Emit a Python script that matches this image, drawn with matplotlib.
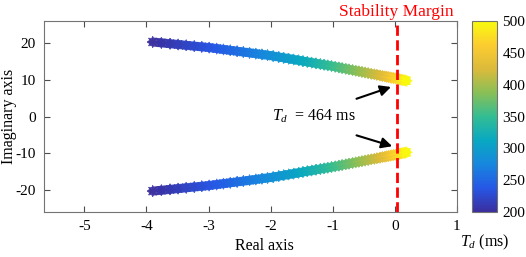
import numpy as np
import matplotlib
matplotlib.use('Agg')
import matplotlib.pyplot as plt
from matplotlib.colors import LinearSegmentedColormap
from matplotlib.collections import LineCollection

plt.rcParams['font.family'] = ['Liberation Serif', 'DejaVu Serif']
plt.rcParams['mathtext.fontset'] = 'custom'
plt.rcParams['mathtext.it'] = 'Liberation Serif:italic'
plt.rcParams['mathtext.rm'] = 'Liberation Serif'
plt.rcParams['axes.unicode_minus'] = False

# 时延 Td (ms) 与对应的主导特征根（上半支，下半支为共轭）
td = [200, 205, 210, 215, 220, 225, 230, 235, 240, 245,
      250, 255, 260, 265, 270, 275, 280, 285, 290, 295,
      300, 305, 310, 315, 320, 325, 330, 335, 340, 345,
      350, 355, 360, 365, 370, 375, 380, 385, 390, 395,
      400, 405, 410, 415, 420, 425, 430, 435, 440, 445,
      450, 455, 460, 465, 470, 475, 480, 485, 490, 495, 500]
real_part = [-3.90, -3.76, -3.62, -3.49, -3.36, -3.23, -3.11, -2.99, -2.87, -2.76,
             -2.65, -2.54, -2.44, -2.34, -2.24, -2.14, -2.05, -1.96, -1.87, -1.79,
             -1.71, -1.63, -1.55, -1.48, -1.41, -1.34, -1.27, -1.20, -1.14, -1.08,
             -1.02, -0.96, -0.90, -0.85, -0.79, -0.74, -0.68, -0.63, -0.58, -0.53,
             -0.48, -0.43, -0.38, -0.33, -0.29, -0.24, -0.20, -0.16, -0.13, -0.10,
             -0.07, -0.05, -0.02, 0.01, 0.04, 0.07, 0.10, 0.12, 0.15, 0.17, 0.19]
imag_part = [20.30, 20.07, 19.83, 19.62, 19.40, 19.18, 18.98, 18.78, 18.51, 18.27,
             18.03, 17.79, 17.57, 17.35, 17.13, 16.91, 16.71, 16.48, 16.22, 15.99,
             15.76, 15.53, 15.30, 15.09, 14.89, 14.69, 14.48, 14.28, 14.11, 13.93,
             13.76, 13.57, 13.37, 13.20, 13.01, 12.84, 12.64, 12.48, 12.31, 12.15,
             11.98, 11.82, 11.65, 11.49, 11.36, 11.19, 11.06, 10.93, 10.83, 10.73,
             10.63, 10.57, 10.47, 10.37, 10.26, 10.16, 10.05, 9.98, 9.88, 9.81, 9.74]
cbar_ticks = [200, 250, 300, 350, 400, 450, 500]

# parula 近似色表
parula_colors = [(0.230, 0.180, 0.620), (0.150, 0.340, 0.900), (0.090, 0.530, 0.870),
                 (0.035, 0.660, 0.760), (0.200, 0.740, 0.580), (0.540, 0.750, 0.340),
                 (0.860, 0.730, 0.230), (0.990, 0.800, 0.190), (0.976, 0.983, 0.054)]
parula = LinearSegmentedColormap.from_list('parula', parula_colors)

td = np.array(td)
re = np.array(real_part)
im = np.array(imag_part)

fig = plt.figure(figsize=(5.26, 2.57), dpi=100)
ax = fig.add_axes([0.0837, 0.175, 0.785, 0.743])
cax = fig.add_axes([0.897, 0.175, 0.0475, 0.743])

star = (8, 2, 0)
for sign in (1, -1):
    pts = np.column_stack([re, sign * im]).reshape(-1, 1, 2)
    segs = np.concatenate([pts[:-1], pts[1:]], axis=1)
    lc = LineCollection(segs, cmap=parula, norm=plt.Normalize(200, 500),
                        linewidths=6.5, capstyle='round', alpha=0.9)
    lc.set_array((td[:-1] + td[1:]) / 2)
    ax.add_collection(lc)
    sc = ax.scatter(re, sign * im, c=td, cmap=parula, vmin=200, vmax=500,
                    marker=star, s=55, linewidths=0.9, alpha=0.8, zorder=3)

ax.axvline(0.03, color='red', linestyle='--', linewidth=2, zorder=4)
ax.text(0.03, 26.4, 'Stability Margin', color='red', fontsize=12.5,
        ha='center', va='bottom')

ax.text(-1.98, 0, r'$T_d$  = 464 ms', fontsize=11.5, ha='left', va='center')
ax.annotate('', xy=(-0.02, 8.3), xytext=(-0.66, 4.6),
            arrowprops=dict(arrowstyle='-|>', color='black', lw=1.5,
                            mutation_scale=16), zorder=5)
ax.annotate('', xy=(0.0, -8.3), xytext=(-0.66, -4.9),
            arrowprops=dict(arrowstyle='-|>', color='black', lw=1.5,
                            mutation_scale=16), zorder=5)

ax.set_xlim(-5.65, 1)
ax.set_ylim(-26, 26)
ax.set_xticks([-5, -4, -3, -2, -1, 0, 1])
ax.set_yticks([-20, -10, 0, 10, 20])
ax.tick_params(direction='in', top=True, right=True, labelsize=11, length=4,
               color='0.3', pad=6)
for sp in ax.spines.values():
    sp.set_color('0.45')
ax.set_xlabel('Real axis', fontsize=11.5)
ax.set_ylabel('Imaginary axis', fontsize=11.5)
ax.xaxis.set_label_coords(0.533, -0.135)
ax.yaxis.set_label_coords(-0.066, 0.5)

cb = fig.colorbar(sc, cax=cax)
cb.solids.set_alpha(1)
cb.set_ticks(cbar_ticks)
cb.ax.tick_params(labelsize=11, length=0, pad=4)
cb.outline.set_edgecolor('0.45')
cax.text(0.5, -0.16, r'$T_d$ (ms)', fontsize=11.5, ha='center', va='center',
         transform=cax.transAxes)

fig.savefig('out.png', dpi=100)
